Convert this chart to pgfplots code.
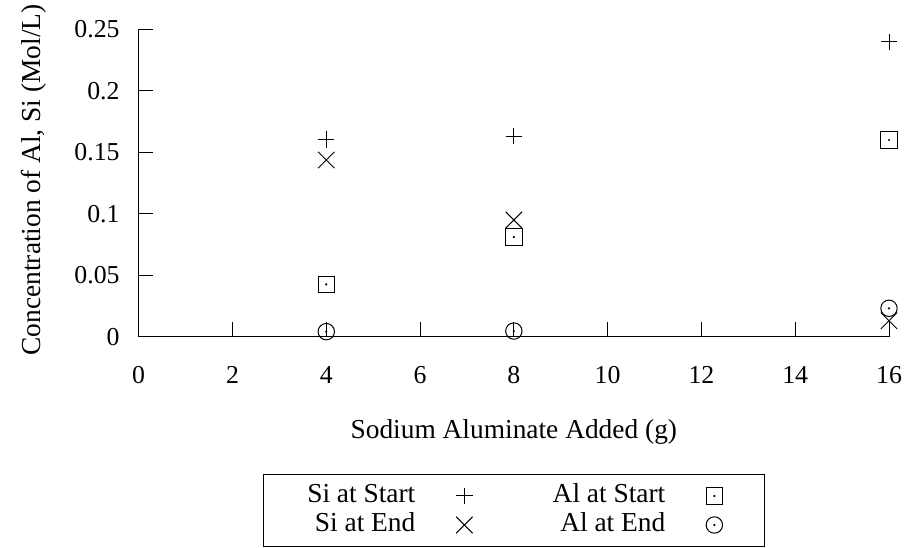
\documentclass[border=0pt]{standalone}
\usepackage{fontspec}
\setmainfont{Liberation Serif}
\usepackage{pgfplots}
\pgfplotsset{compat=1.18}
\pgfdeclareplotmark{sqdot}{%
  \pgfpathrectangle{\pgfpoint{-\pgfplotmarksize}{-\pgfplotmarksize}}{\pgfpoint{2\pgfplotmarksize}{2\pgfplotmarksize}}%
  \pgfusepathqstroke
  \pgfpathcircle{\pgfpointorigin}{0.6pt}\pgfusepathqfill}
\pgfdeclareplotmark{cdot}{%
  \pgfpathcircle{\pgfpointorigin}{\pgfplotmarksize}\pgfusepathqstroke
  \pgfpathcircle{\pgfpointorigin}{0.6pt}\pgfusepathqfill}
\begin{document}
\begin{tikzpicture}
\begin{axis}[
  at={(0pt,0pt)}, anchor=south west,
  scale only axis, width=375.15pt, height=153.7pt,
  xmin=0, xmax=16, ymin=0, ymax=0.25,
  axis x line*=bottom, axis y line*=left,
  axis line style={line width=0.6pt, black},
  tick align=inside, major tick length=7.25pt,
  every tick/.style={line width=0.5pt, black},
  xtick={0,2,4,6,8,10,12,14,16},
  ytick={0,0.05,0.1,0.15,0.2,0.25},
  yticklabels={0,0.05,0.1,0.15,0.2,0.25},
  /pgf/number format/assume math mode=true,
  ticklabel style={font=\fontsize{12.9}{14}\selectfont},
  xticklabel style={anchor=base, inner sep=0pt, yshift=-23.2pt},
  yticklabel style={anchor=east, inner sep=0pt, xshift=-9.35pt},
  xlabel={Sodium Aluminate Added (g)},
  ylabel={Concentration of Al, Si (Mol/L)},
  label style={font=\fontsize{13.7}{15}\selectfont},
  xlabel style={at={(axis description cs:0.5,-0.3305)}, anchor=base, inner sep=0pt},
  ylabel style={at={(axis description cs:-0.1315,0.51)}, anchor=base, inner sep=0pt, rotate=0},
  legend columns=2,
  legend plot pos=right,
  legend image code/.code={%
    \path[draw=none, fill=none] (-12pt,-4pt) (12pt,4pt);
    \draw[#1] plot coordinates {(0pt,0pt)};},
  legend style={
    at={(axis description cs:0.5,-0.4476)}, anchor=north,
    draw=black, line width=0.5pt,
    inner xsep=13pt, inner ysep=4.1pt,
    row sep=1.5pt,
    nodes={inner sep=0pt, text height=9.8pt, text depth=3.2pt, font=\fontsize{13.7}{15}\selectfont},
    /tikz/column 1/.style={column sep=12.5pt},
    /tikz/column 2/.style={column sep=0pt},
    /tikz/column 3/.style={column sep=12.5pt},
  },
  mark size=4.1pt,
]
\addplot[only marks, mark=+, black, line width=0.5pt] coordinates {(4,0.1605) (8,0.1632) (16,0.2399)};
\addlegendentry{\makebox[63pt][r]{Si at Start}}
\addplot[only marks, mark=sqdot, black, line width=0.5pt] coordinates {(4,0.0426) (8,0.0811) (16,0.160)};
\addlegendentry{\makebox[88.5pt][r]{Al at Start}}
\addplot[only marks, mark=x, mark size=5.8pt, black, line width=0.5pt] coordinates {(4,0.1437) (8,0.0949) (16,0.0130)};
\addlegendentry{\makebox[63pt][r]{Si at End}}
\addplot[only marks, mark=cdot, black, line width=0.5pt] coordinates {(4,0.0041) (8,0.0046) (16,0.0231)};
\addlegendentry{\makebox[88.5pt][r]{Al at End}}
\end{axis}
\pgfresetboundingbox
\path[use as bounding box] (-69.35pt,-105.15pt) rectangle (386.15pt,168.35pt);
\end{tikzpicture}
\end{document}
